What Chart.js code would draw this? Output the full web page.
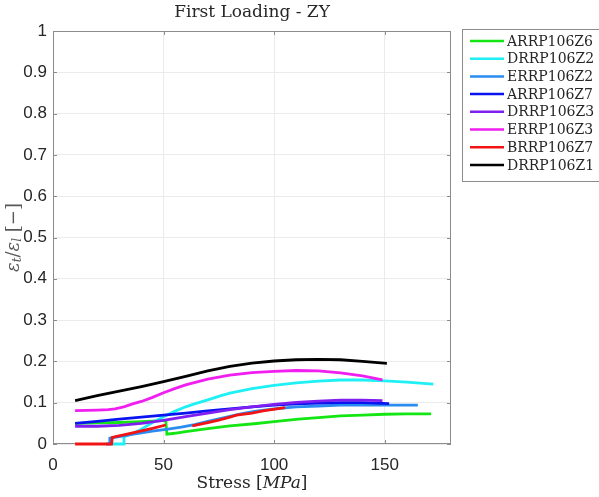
<!DOCTYPE html>
<html>
<head>
<meta charset="utf-8">
<script src="https://cdn.jsdelivr.net/npm/chart.js@4/dist/chart.umd.min.js"></script>
<style>
  html, body { margin: 0; padding: 0; background: #fff; }
  #plot { display: block; }
</style>
</head>
<body>
<canvas id="plot" width="599" height="497"></canvas>
<script>
// ---- data: stress [MPa] vs strain ratio, one pair of arrays per specimen ----
const xTicks = [0, 50, 100, 150];
const yTicks = [0, 0.1, 0.2, 0.3, 0.4, 0.5, 0.6, 0.7, 0.8, 0.9, 1];

const ARRP106Z6_x = [10, 20, 30, 40, 51, 51.5, 55, 60, 70, 80, 91, 100, 111, 120, 130, 140, 150, 160, 171];
const ARRP106Z6_y = [0.05, 0.051, 0.052, 0.054, 0.057, 0.024, 0.026, 0.03, 0.037, 0.044, 0.049, 0.054, 0.06, 0.064, 0.068, 0.07, 0.072, 0.073, 0.073];

const DRRP106Z2_x = [27, 32, 32.1, 36, 40, 45, 50, 55, 60, 64, 70, 76, 80, 90, 100, 110, 120, 130, 140, 150, 160, 172];
const DRRP106Z2_y = [0, 0, 0.018, 0.025, 0.036, 0.052, 0.066, 0.079, 0.09, 0.097, 0.107, 0.117, 0.123, 0.134, 0.142, 0.148, 0.152, 0.155, 0.155, 0.153, 0.15, 0.145];

const ERRP106Z2_x = [24, 25.6, 25.7, 30, 35, 40, 45, 52, 58, 64, 70, 79, 85, 91, 100, 110, 120, 130, 140, 150, 165];
const ERRP106Z2_y = [0, 0, 0.014, 0.018, 0.023, 0.027, 0.031, 0.036, 0.041, 0.047, 0.055, 0.066, 0.073, 0.079, 0.085, 0.09, 0.092, 0.094, 0.094, 0.094, 0.094];

const ARRP106Z7_x = [10, 20, 30, 40, 50, 60, 70, 80, 90, 100, 110, 120, 130, 140, 152];
const ARRP106Z7_y = [0.05, 0.055, 0.06, 0.065, 0.07, 0.075, 0.08, 0.085, 0.09, 0.094, 0.097, 0.099, 0.1, 0.1, 0.098];

const DRRP106Z3_x = [10, 20, 30, 40, 50, 60, 70, 80, 90, 100, 110, 120, 130, 140, 149];
const DRRP106Z3_y = [0.043, 0.043, 0.045, 0.05, 0.057, 0.066, 0.075, 0.083, 0.09, 0.096, 0.101, 0.104, 0.106, 0.106, 0.105];

const ERRP106Z3_x = [10, 20, 25, 28, 32, 36, 40, 45, 50, 55, 60, 70, 80, 90, 100, 110, 120, 130, 140, 149];
const ERRP106Z3_y = [0.081, 0.082, 0.083, 0.085, 0.09, 0.097, 0.103, 0.113, 0.124, 0.134, 0.143, 0.157, 0.167, 0.173, 0.176, 0.178, 0.177, 0.172, 0.165, 0.155];

// null splits the curve where the gauge dropped out
const BRRP106Z7_x = [10, 26.5, 26.8, 35, 45, 51, 57, 63, 70, 75, 80, 83, 90, 95, 105];
const BRRP106Z7_y = [0, 0, 0.016, 0.026, 0.038, 0.046, null, 0.044, 0.052, 0.058, 0.065, 0.07, 0.075, 0.08, 0.088];

const DRRP106Z1_x = [10, 20, 30, 40, 50, 60, 70, 80, 90, 100, 110, 120, 130, 140, 151];
const DRRP106Z1_y = [0.105, 0.117, 0.128, 0.139, 0.151, 0.164, 0.177, 0.188, 0.196, 0.201, 0.204, 0.205, 0.204, 0.2, 0.195];

const series = [
  { label: "ARRP106Z6", xs: ARRP106Z6_x, ys: ARRP106Z6_y, color: "#14e614" },
  { label: "DRRP106Z2", xs: DRRP106Z2_x, ys: DRRP106Z2_y, color: "#1ef0f5" },
  { label: "ERRP106Z2", xs: ERRP106Z2_x, ys: ERRP106Z2_y, color: "#2a8cf0" },
  { label: "ARRP106Z7", xs: ARRP106Z7_x, ys: ARRP106Z7_y, color: "#0a14f0" },
  { label: "DRRP106Z3", xs: DRRP106Z3_x, ys: DRRP106Z3_y, color: "#8020f0" },
  { label: "ERRP106Z3", xs: ERRP106Z3_x, ys: ERRP106Z3_y, color: "#f01ef0" },
  { label: "BRRP106Z7", xs: BRRP106Z7_x, ys: BRRP106Z7_y, color: "#f01414" },
  { label: "DRRP106Z1", xs: DRRP106Z1_x, ys: DRRP106Z1_y, color: "#000000" },
];

const SERIF = "'DejaVu Serif', serif";
const SANS  = "'Liberation Sans', Arial, sans-serif";
const AXIS_GRAY = "#8c8c8c";

// draw a run of [text, font, dy] pieces starting at x
function drawRich(ctx, parts, x, y) {
  let cx = x;
  parts.forEach(([txt, font, dy]) => {
    ctx.font = font;
    ctx.fillText(txt, cx, y + (dy || 0));
    cx += ctx.measureText(txt).width;
  });
  return cx - x;
}
function richWidth(ctx, parts) {
  let w = 0;
  parts.forEach(([txt, font]) => { ctx.font = font; w += ctx.measureText(txt).width; });
  return w;
}

// axes box with inward ticks, under the curves
const axesBox = {
  id: "axesBox",
  beforeDatasetsDraw(chart) {
    const { ctx, chartArea: a, scales } = chart;
    ctx.save();
    ctx.strokeStyle = AXIS_GRAY;
    ctx.lineWidth = 1;
    ctx.strokeRect(a.left + 0.5, a.top + 0.5, a.right - a.left - 1, a.bottom - a.top - 1);
    ctx.beginPath();
    xTicks.forEach(v => {
      const px = Math.round(scales.x.getPixelForValue(v)) + 0.5;
      ctx.moveTo(px, a.bottom); ctx.lineTo(px, a.bottom - 4);
      ctx.moveTo(px, a.top);    ctx.lineTo(px, a.top + 4);
    });
    yTicks.forEach(v => {
      const py = Math.round(scales.y.getPixelForValue(v)) + 0.5;
      ctx.moveTo(a.left, py);  ctx.lineTo(a.left + 4, py);
      ctx.moveTo(a.right, py); ctx.lineTo(a.right - 4, py);
    });
    ctx.stroke();
    ctx.restore();
  },
};

// title, axis labels and the boxed legend
const annotations = {
  id: "annotations",
  afterDraw(chart) {
    const { ctx, chartArea: a } = chart;
    ctx.save();
    const cx = (a.left + a.right) / 2;
    ctx.fillStyle = "#262626";
    ctx.textBaseline = "middle";

    ctx.font = "17px " + SERIF;
    ctx.textAlign = "center";
    ctx.fillText("First Loading - ZY", cx, 13);

    ctx.textAlign = "left";
    const xParts = [
      ["Stress [", "17px " + SERIF],
      ["MPa", "italic 17px " + SERIF],
      ["]", "17px " + SERIF],
    ];
    drawRich(ctx, xParts, cx - richWidth(ctx, xParts) / 2, 484);

    const yParts = [
      ["ε", "italic 18px " + SERIF],
      ["t", "italic 12px " + SERIF, 4],
      ["/", "18px " + SERIF],
      ["ε", "italic 18px " + SERIF],
      ["l", "italic 12px " + SERIF, 4],
      [" [−]", "18px " + SERIF],
    ];
    ctx.save();
    ctx.translate(14, (a.top + a.bottom) / 2);
    ctx.rotate(-Math.PI / 2);
    ctx.fillStyle = "#595959";
    drawRich(ctx, yParts, -richWidth(ctx, yParts) / 2, 0);
    ctx.restore();

    // legend
    const lx = 462.5, ly = 29.5, rowH = 17.7;
    ctx.fillStyle = "#fff";
    ctx.fillRect(lx, ly, 150, 152);
    ctx.strokeStyle = AXIS_GRAY;
    ctx.lineWidth = 1;
    ctx.strokeRect(lx, ly, 150, 152);
    ctx.font = "14px " + SERIF;
    chart.data.datasets.forEach((ds, i) => {
      const y = 41 + i * rowH;
      ctx.strokeStyle = ds.borderColor;
      ctx.lineWidth = 2.5;
      ctx.beginPath();
      ctx.moveTo(470, y); ctx.lineTo(504, y);
      ctx.stroke();
      ctx.fillStyle = "#262626";
      ctx.fillText(ds.label, 507, y + 1);
    });

    ctx.restore();
  },
};

const datasets = series.map((s, i) => ({
  label: s.label,
  data: s.xs.map((x, k) => ({ x, y: s.ys[k] })),
  borderColor: s.color,
  backgroundColor: s.color,
  borderWidth: 2.8,
  pointRadius: 0,
  tension: 0,
  spanGaps: false,
  clip: 4,
  order: series.length - i,   // later series drawn on top
}));

new Chart(document.getElementById("plot"), {
  type: "line",
  data: { datasets },
  options: {
    responsive: false,
    animation: false,
    layout: { padding: { left: 0, top: 31, right: 148, bottom: 0 } },
    plugins: { legend: { display: false }, tooltip: { enabled: false }, title: { display: false } },
    scales: {
      x: {
        type: "linear",
        min: 0, max: 180,
        afterBuildTicks: sc => { sc.ticks = xTicks.map(v => ({ value: v })); },
        afterFit: sc => { sc.height = 53; },
        grid: { color: "#ebebeb", drawTicks: false },
        border: { display: false },
        ticks: { font: { family: SANS, size: 17 }, color: "#262626", padding: 11, maxRotation: 0 },
      },
      y: {
        type: "linear",
        min: 0, max: 1,
        afterBuildTicks: sc => { sc.ticks = yTicks.map(v => ({ value: v })); },
        afterFit: sc => { sc.width = 53; },
        grid: { color: "#ebebeb", drawTicks: false },
        border: { display: false },
        ticks: {
          font: { family: SANS, size: 17 }, color: "#262626", padding: 6,
          callback: v => String(Math.round(v * 10) / 10),
        },
      },
    },
  },
  plugins: [axesBox, annotations],
});
</script>
</body>
</html>
